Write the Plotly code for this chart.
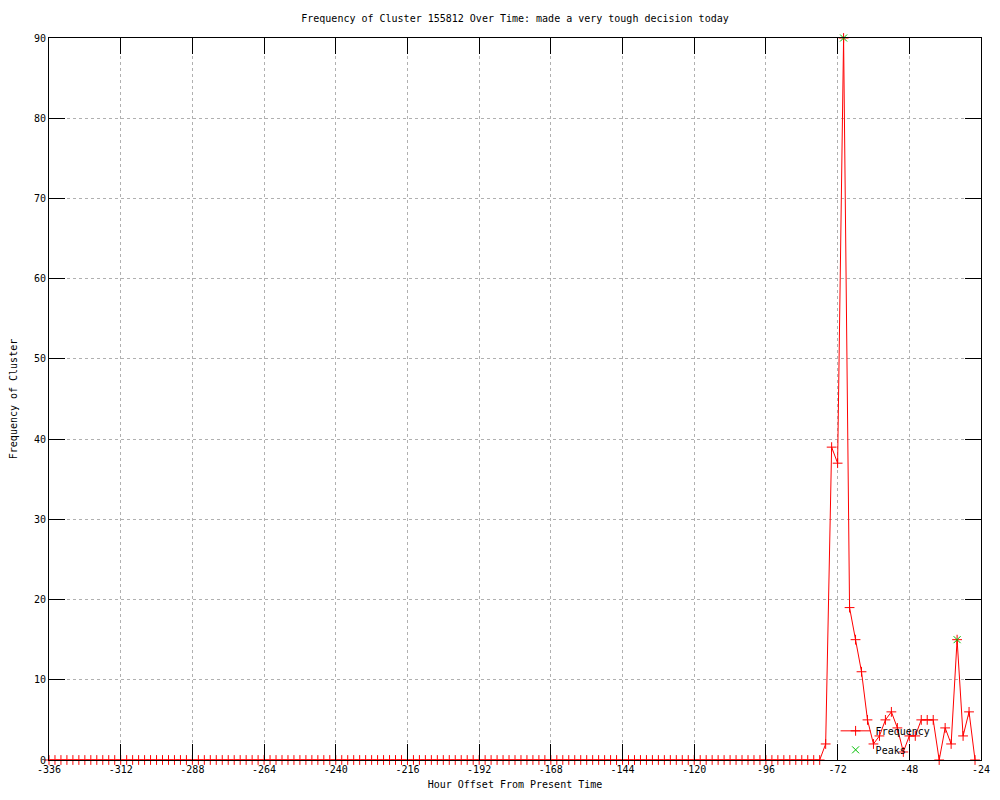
import plotly.graph_objects as go

# ---- data ----
hours = list(range(-336, -24, 2))  # -336 ... -26, every 2 hours

frequency = [
    0, 0, 0, 0, 0, 0, 0, 0, 0, 0,   # -336 .. -318
    0, 0, 0, 0, 0, 0, 0, 0, 0, 0,   # -316 .. -298
    0, 0, 0, 0, 0, 0, 0, 0, 0, 0,   # -296 .. -278
    0, 0, 0, 0, 0, 0, 0, 0, 0, 0,   # -276 .. -258
    0, 0, 0, 0, 0, 0, 0, 0, 0, 0,   # -256 .. -238
    0, 0, 0, 0, 0, 0, 0, 0, 0, 0,   # -236 .. -218
    0, 0, 0, 0, 0, 0, 0, 0, 0, 0,   # -216 .. -198
    0, 0, 0, 0, 0, 0, 0, 0, 0, 0,   # -196 .. -178
    0, 0, 0, 0, 0, 0, 0, 0, 0, 0,   # -176 .. -158
    0, 0, 0, 0, 0, 0, 0, 0, 0, 0,   # -156 .. -138
    0, 0, 0, 0, 0, 0, 0, 0, 0, 0,   # -136 .. -118
    0, 0, 0, 0, 0, 0, 0, 0, 0, 0,   # -116 .. -98
    0, 0, 0, 0, 0, 0, 0, 0, 0, 0,   # -96 .. -78
    2, 39, 37, 90, 19, 15, 11, 5, 2, 3,   # -76 .. -58
    5, 6, 4, 1, 3, 3, 5, 5, 5, 0,         # -56 .. -38
    4, 2, 15, 3, 6, 0,                    # -36 .. -26
]

peak_hours = [-70, -32]
peak_values = [90, 15]

x_tick_vals = [-336, -312, -288, -264, -240, -216, -192, -168, -144, -120, -96, -72, -48, -24]
x_tick_text = ["-336", "-312", "-288", "-264", "-240", "-216", "-192", "-168",
               "-144", "-120", "-96", "-72", "-48", "-24"]
y_tick_vals = [0, 10, 20, 30, 40, 50, 60, 70, 80, 90]

title_text = "Frequency of Cluster 155812 Over Time: made a very tough decision today"
x_title = "Hour Offset From Present Time"
y_title = "Frequency of Cluster"

FONT = "DejaVu Sans Mono"

fig = go.Figure()

fig.add_trace(go.Scatter(
    x=hours, y=frequency, name="Frequency",
    mode="lines+markers",
    line=dict(color="#ff0000", width=1),
    marker=dict(symbol="cross-thin", size=7, color="#ff0000",
                line=dict(color="#ff0000", width=1)),
    cliponaxis=False,
))

fig.add_trace(go.Scatter(
    x=peak_hours, y=peak_values, name="Peaks",
    mode="markers",
    marker=dict(symbol="x-thin", size=7, color="#00c000",
                line=dict(color="#00c000", width=1)),
    cliponaxis=False,
))

axis_common = dict(
    showline=True, linecolor="black", linewidth=1, mirror="allticks",
    ticks="inside", ticklen=16, tickcolor="black", tickwidth=1,
    showgrid=True, gridcolor="#b0b0b0", gridwidth=1, griddash="dot",
    zeroline=False, automargin=False,
    tickfont=dict(family=FONT, size=10, color="black"),
)

fig.update_xaxes(
    range=[-336, -24], tickmode="array", tickvals=x_tick_vals, ticktext=x_tick_text,
    title=dict(text=x_title, font=dict(family=FONT, size=10, color="black"), standoff=6),
    **axis_common,
)
fig.update_yaxes(
    range=[0, 90], tickmode="array", tickvals=y_tick_vals,
    title=dict(text=y_title, font=dict(family=FONT, size=10, color="black"), standoff=21),
    **axis_common,
)

# The page body adds an 8 px offset, so margins are shifted to keep the
# plot area at the same on-screen position as the reference.
fig.update_layout(
    width=1000, height=800,
    margin=dict(l=41, r=27, t=30, b=48, autoexpand=False),
    paper_bgcolor="white", plot_bgcolor="white",
    title=dict(text=title_text, x=0.5, xref="paper", y=1 - 10 / 800, yanchor="middle",
               font=dict(family=FONT, size=10, color="black"), automargin=False),
    showlegend=True,
    legend=dict(x=0.844, y=-0.006, xanchor="left", yanchor="bottom",
                bgcolor="rgba(0,0,0,0)", borderwidth=0,
                font=dict(family=FONT, size=10, color="black"),
                itemwidth=30, tracegroupgap=0),
    font=dict(family=FONT, size=10, color="black"),
)

fig.write_html("out.html")
